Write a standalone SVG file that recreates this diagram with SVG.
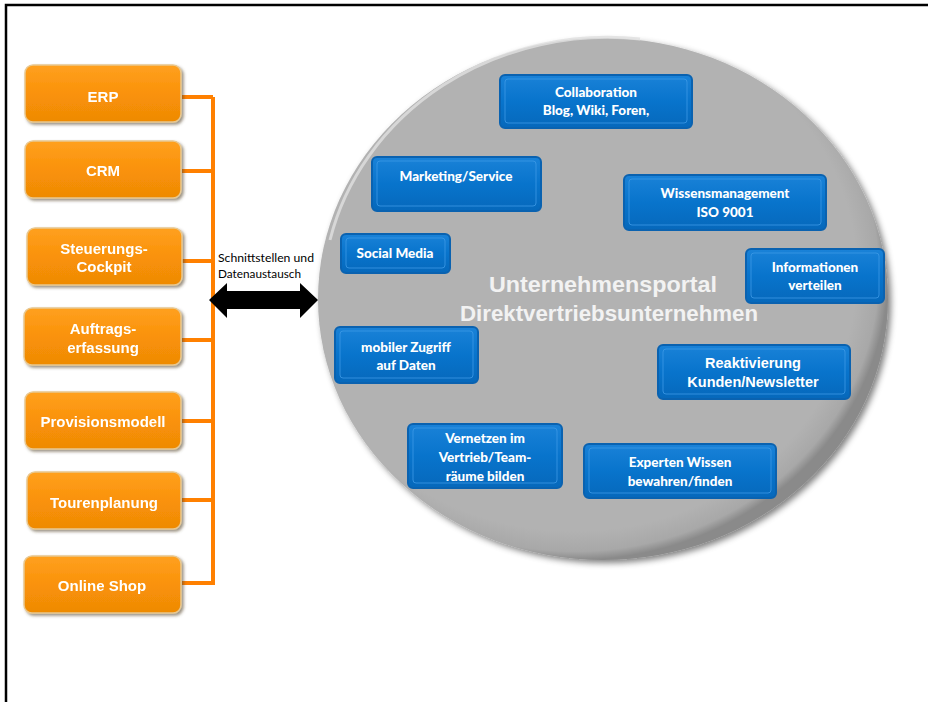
<svg xmlns="http://www.w3.org/2000/svg" width="928" height="702" viewBox="0 0 928 702">
<defs>
<linearGradient id="og" x1="0" y1="0" x2="0" y2="1">
<stop offset="0" stop-color="#ffa020"/>
<stop offset="0.5" stop-color="#fa9208"/>
<stop offset="1" stop-color="#ee8a05"/>
</linearGradient>
<linearGradient id="bg" x1="0" y1="0" x2="0" y2="1">
<stop offset="0" stop-color="#1a82d8"/>
<stop offset="0.5" stop-color="#0874cc"/>
<stop offset="1" stop-color="#0668bb"/>
</linearGradient>
<radialGradient id="cg" cx="0.45" cy="0.45" r="0.55">
<stop offset="0.9" stop-color="#b2b2b2"/>
<stop offset="0.97" stop-color="#a8a8a8"/>
<stop offset="1" stop-color="#8a8a8a"/>
</radialGradient>
<filter id="sh" x="-10%" y="-10%" width="125%" height="130%">
<feGaussianBlur in="SourceAlpha" stdDeviation="1.5"/>
<feOffset dx="1.5" dy="2" result="b"/>
<feFlood flood-color="#5a4a30" flood-opacity="0.6"/>
<feComposite in2="b" operator="in"/>
<feMerge><feMergeNode/><feMergeNode in="SourceGraphic"/></feMerge>
</filter>
<filter id="csh" x="-5%" y="-5%" width="112%" height="112%">
<feGaussianBlur in="SourceAlpha" stdDeviation="3"/>
<feOffset dx="3" dy="3" result="b"/>
<feFlood flood-color="#000" flood-opacity="0.5"/>
<feComposite in2="b" operator="in"/>
<feMerge><feMergeNode/><feMergeNode in="SourceGraphic"/></feMerge>
</filter>
</defs>
<style>
.ob{fill:url(#og);stroke:#e8c890;stroke-width:1.5}
.bb{fill:url(#bg);stroke:#0a62b0;stroke-width:2}
.bi{fill:none;stroke:#3d9ae6;stroke-width:1;opacity:0.8}
.ot{font-family:"Liberation Sans",Arial,sans-serif;font-weight:bold;font-size:15px;fill:#ffffff;text-anchor:middle}
.bt{font-family:Lato,"Open Sans",sans-serif;font-weight:900;font-size:13.5px;fill:#ffffff;text-anchor:middle}
.bt2{font-family:"Liberation Sans",Arial,sans-serif;font-weight:bold;font-size:14.5px;fill:#ffffff;text-anchor:middle}
.ol{stroke:#ff8000;stroke-width:4;fill:none}
</style>
<rect width="928" height="702" fill="#ffffff"/>
<path d="M6 702V5H928" fill="none" stroke="#000" stroke-width="2.5"/>

<g id="portal">
<ellipse cx="603" cy="299" rx="285" ry="261" fill="url(#cg)" filter="url(#csh)"/>
<path d="M330 240 A285 261 0 0 1 640 39" fill="none" stroke="#e0e0e0" stroke-width="3" opacity="0.8"/>
<text x="603" y="292" font-family="Liberation Sans,Arial,sans-serif" font-weight="bold" font-size="22" fill="#f2f2f2" text-anchor="middle" textLength="228" lengthAdjust="spacingAndGlyphs">Unternehmensportal</text>
<text x="609" y="321" font-family="Liberation Sans,Arial,sans-serif" font-weight="bold" font-size="22" fill="#f2f2f2" text-anchor="middle" textLength="298" lengthAdjust="spacingAndGlyphs">Direktvertriebsunternehmen</text>
</g>

<g id="connectors">
<path class="ol" d="M213 97V585"/>
<path class="ol" d="M182 97H213M182 171H213M182 261H213M182 340H213M182 421H213M182 500H213M182 583H213"/>
<polygon points="209,300 227,283 227,291 300,291 300,283 318,300 300,318 300,309 227,309 227,318" fill="#000"/>
<text x="218" y="262" font-family="Lato,'Open Sans',sans-serif" font-size="11" fill="#000" textLength="96" lengthAdjust="spacingAndGlyphs">Schnittstellen und</text>
<text x="218" y="278" font-family="Lato,'Open Sans',sans-serif" font-size="11" fill="#000" textLength="83" lengthAdjust="spacingAndGlyphs">Datenaustausch</text>
</g>

<g id="erp" filter="url(#sh)"><rect class="ob" x="25" y="65" width="156" height="57" rx="8"/><text class="ot" x="103" y="102">ERP</text></g>
<g id="crm" filter="url(#sh)"><rect class="ob" x="25" y="141" width="156" height="57" rx="8"/><text class="ot" x="103" y="176">CRM</text></g>
<g id="cockpit" filter="url(#sh)"><rect class="ob" x="27" y="228" width="155" height="57" rx="8"/><text class="ot" x="104" y="254">Steuerungs-</text><text class="ot" x="104" y="272">Cockpit</text></g>
<g id="auftrag" filter="url(#sh)"><rect class="ob" x="24" y="308" width="157" height="57" rx="8"/><text class="ot" x="103" y="334">Auftrags-</text><text class="ot" x="103" y="353">erfassung</text></g>
<g id="provision" filter="url(#sh)"><rect class="ob" x="25" y="392" width="156" height="57" rx="8"/><text class="ot" x="103" y="427">Provisionsmodell</text></g>
<g id="touren" filter="url(#sh)"><rect class="ob" x="27" y="472" width="154" height="57" rx="8"/><text class="ot" x="104" y="508">Tourenplanung</text></g>
<g id="shop" filter="url(#sh)"><rect class="ob" x="24" y="556" width="157" height="57" rx="8"/><text class="ot" x="102" y="591">Online Shop</text></g>

<g id="collab"><rect class="bb" x="500" y="75" width="192" height="53" rx="5"/><rect class="bi" x="505" y="79" width="182" height="44" rx="3"/><text class="bt" x="596" y="97">Collaboration</text><text class="bt" x="596" y="115">Blog, Wiki, Foren,</text></g>
<g id="marketing"><rect class="bb" x="372" y="157" width="169" height="54" rx="5"/><rect class="bi" x="377" y="161" width="159" height="45" rx="3"/><text class="bt" x="456" y="181">Marketing/Service</text></g>
<g id="social"><rect class="bb" x="341" y="234" width="109" height="39" rx="5"/><rect class="bi" x="346" y="238" width="99" height="30" rx="3"/><text class="bt" x="395" y="258">Social Media</text></g>
<g id="wissen"><rect class="bb" x="624" y="175" width="202" height="55" rx="5"/><rect class="bi" x="629" y="179" width="192" height="46" rx="3"/><text class="bt" x="725" y="198">Wissensmanagement</text><text class="bt" x="725" y="217">ISO 9001</text></g>
<g id="info"><rect class="bb" x="746" y="249" width="138" height="54" rx="5"/><rect class="bi" x="751" y="253" width="128" height="45" rx="3"/><text class="bt" x="815" y="272">Informationen</text><text class="bt" x="815" y="290">verteilen</text></g>
<g id="mobil"><rect class="bb" x="335" y="327" width="143" height="56" rx="5"/><rect class="bi" x="340" y="331" width="133" height="47" rx="3"/><text class="bt" x="406" y="352">mobiler Zugriff</text><text class="bt" x="406" y="370">auf Daten</text></g>
<g id="reakt"><rect class="bb" x="658" y="345" width="192" height="54" rx="5"/><rect class="bi" x="663" y="349" width="182" height="45" rx="3"/><text class="bt2" x="753" y="368">Reaktivierung</text><text class="bt2" x="753" y="387">Kunden/Newsletter</text></g>
<g id="vernetzen"><rect class="bb" x="408" y="424" width="154" height="64" rx="5"/><rect class="bi" x="413" y="428" width="144" height="55" rx="3"/><text class="bt" x="485" y="443">Vernetzen im</text><text class="bt" x="485" y="462">Vertrieb/Team-</text><text class="bt" x="485" y="481">räume bilden</text></g>
<g id="experten"><rect class="bb" x="584" y="444" width="192" height="54" rx="5"/><rect class="bi" x="589" y="448" width="182" height="45" rx="3"/><text class="bt" x="680" y="467">Experten Wissen</text><text class="bt" x="680" y="486">bewahren/finden</text></g>
</svg>
